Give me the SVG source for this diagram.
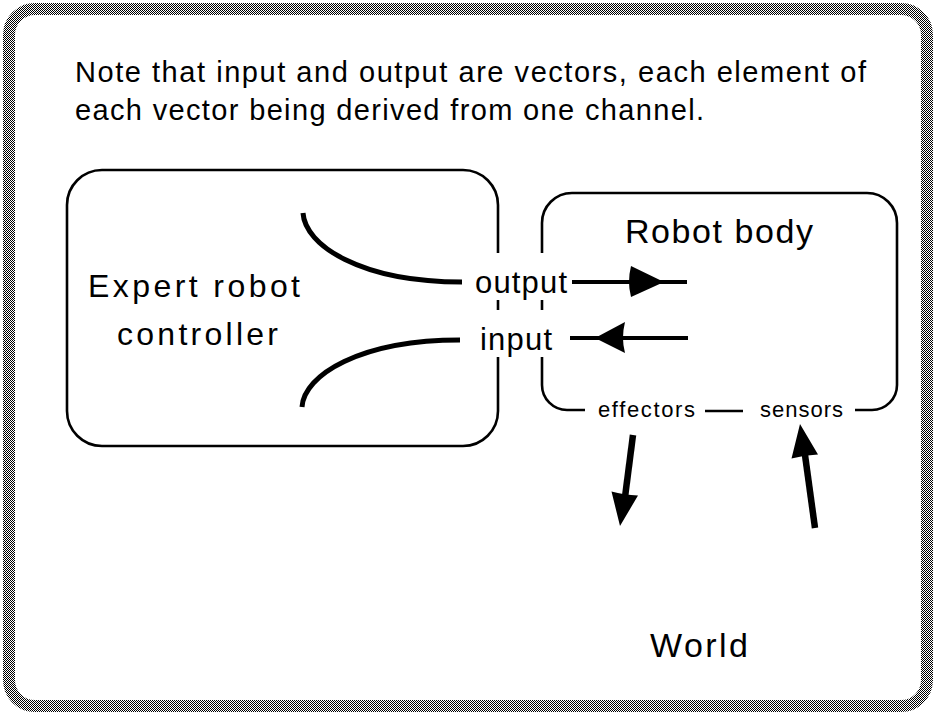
<svg xmlns="http://www.w3.org/2000/svg" width="935" height="714" viewBox="0 0 935 714">
  <defs>
    <!-- halftone screen for the outer frame -->
    <pattern id="screen" patternUnits="userSpaceOnUse" width="2" height="2">
      <rect width="2" height="2" fill="#ffffff"/>
      <rect x="0" y="0" width="1" height="1" fill="#000000"/>
      <rect x="1" y="1" width="1" height="1" fill="#000000"/>
    </pattern>
  </defs>
  <style>
    text { font-family: "Liberation Sans", Arial, Helvetica, sans-serif; fill: #000; }
    .box { fill: none; stroke: #000; stroke-width: 2.6; stroke-linecap: butt; }
    .curve { fill: none; stroke: #000; stroke-width: 5; stroke-linecap: butt; }
    .thin { fill: none; stroke: #000; stroke-width: 4; }
    .thick { fill: none; stroke: #000; stroke-width: 6.5; }
    .head { fill: #000; stroke: none; }
  </style>

  <rect width="935" height="714" fill="#ffffff"/>

  <!-- outer frame -->
  <rect x="9" y="9" width="918" height="697" rx="26" ry="26" fill="none" stroke="url(#screen)" stroke-width="12"/>

  <!-- caption -->
  <g id="caption">
    <text x="75" y="82" font-size="29" textLength="791" lengthAdjust="spacing">Note that input and output are vectors, each element of</text>
    <text x="75" y="120" font-size="29" textLength="629" lengthAdjust="spacing">each vector being derived from one channel.</text>
  </g>

  <!-- controller box, open on its right side at the channel gap -->
  <g id="controller">
    <path class="box" d="M498,253 L498,205 A35,35 0 0 0 463,170 L102,170 A35,35 0 0 0 67,205 L67,411 A35,35 0 0 0 102,446 L463,446 A35,35 0 0 0 498,411 L498,357"/>
    <path class="box" d="M498,300 L498,310"/>
    <text x="88" y="297" font-size="32" textLength="212" lengthAdjust="spacing">Expert  robot</text>
    <text x="117" y="345" font-size="32" textLength="161" lengthAdjust="spacing">controller</text>
  </g>

  <!-- robot body box, open at the channel gap and along its bottom -->
  <g id="robot-body">
    <path class="box" d="M542,253 L542,223 A30,30 0 0 1 572,193 L867,193 A30,30 0 0 1 897,223 L897,385 A25,25 0 0 1 872,410 L855,410"/>
    <path class="box" d="M542,357 L542,385 A25,25 0 0 0 567,410 L585,410"/>
    <path class="box" d="M542,300 L542,310"/>
    <path class="box" d="M705,411 L743,411"/>
    <text x="625" y="243" font-size="34" textLength="188" lengthAdjust="spacing">Robot  body</text>
    <text x="598" y="417" font-size="22" textLength="97" lengthAdjust="spacing">effectors</text>
    <text x="760" y="417" font-size="22" textLength="83" lengthAdjust="spacing">sensors</text>
  </g>

  <!-- channel labels -->
  <g id="channels">
    <text x="475" y="293" font-size="31" textLength="92" lengthAdjust="spacing">output</text>
    <text x="480" y="350" font-size="31" textLength="72" lengthAdjust="spacing">input</text>
  </g>

  <g id="world">
    <text x="650" y="657" font-size="34" textLength="98" lengthAdjust="spacing">World</text>
  </g>

  <!-- connectors -->
  <g id="connectors">
    <path class="curve" d="M303,213 C305,245 360,282 462,282"/>
    <path class="curve" d="M302,407 C304,375 360,340 460,340"/>

    <path class="thin" d="M572,282 L687,282"/>
    <path class="head" d="M664,282 L631,266 Q627,282 631,297 Z"/>

    <path class="thin" d="M570,338 L688,338"/>
    <path class="head" d="M595,338 L625,322 Q621,338 625,353 Z"/>

    <path class="thick" d="M633,435 L625,497"/>
    <path class="head" d="M620,526 L611.5,491.5 Q624,495 638,495.5 Z"/>

    <path class="thick" d="M815,528 L805,455"/>
    <path class="head" d="M800,424 L818,454.5 Q805,455 791.5,458.5 Z"/>
  </g>
</svg>
